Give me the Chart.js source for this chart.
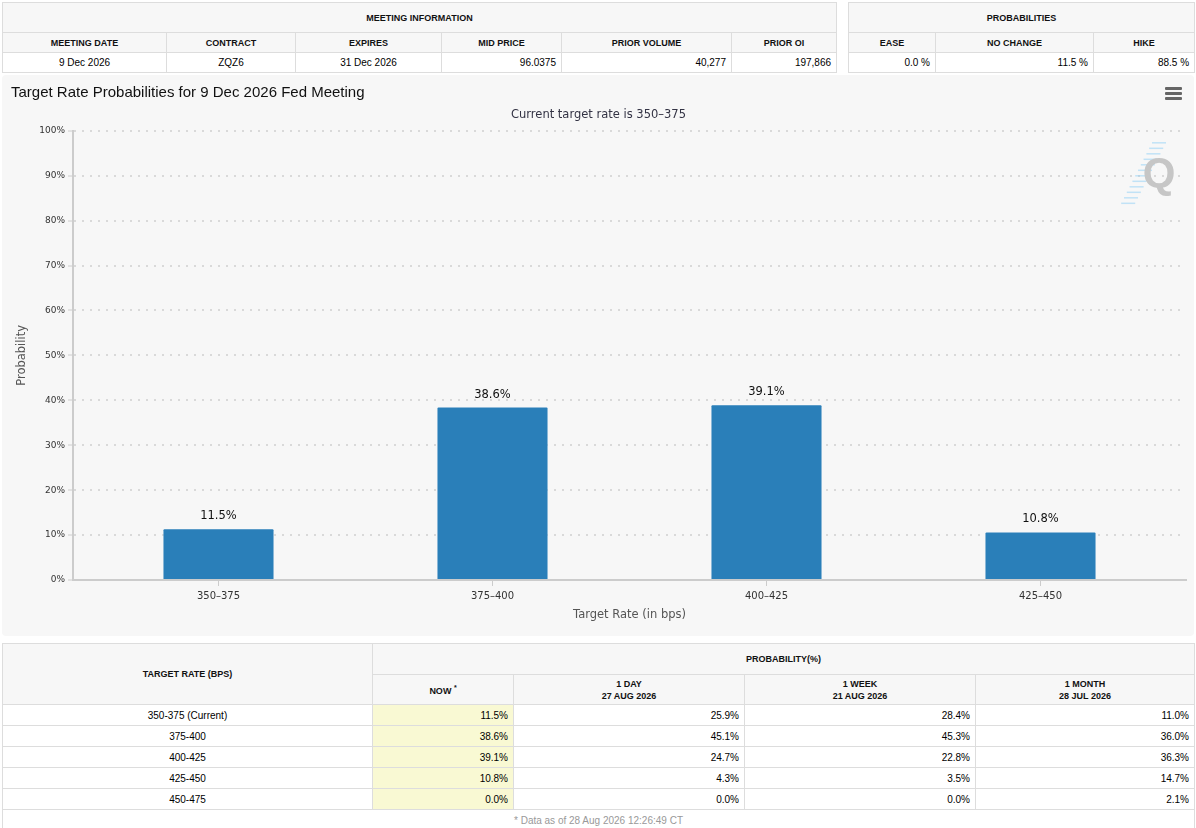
<!DOCTYPE html>
<html>
<head>
<meta charset="utf-8">
<title>Target Rate Probabilities</title>
<script src="https://cdn.jsdelivr.net/npm/chart.js@4/dist/chart.umd.min.js"></script>
<style>
	body { margin: 0; background: #fff; font-family: "Liberation Sans", Arial, sans-serif; width: 1196px; height: 828px; overflow: hidden; position: relative; }
	table { border-collapse: collapse; table-layout: fixed; position: absolute; }
	td, th { border: 1px solid #ddd; font-size: 10px; padding: 0 5px; color: #000; white-space: nowrap; overflow: hidden; }
	th { background: #f7f7f7; font-size: 9px; font-weight: bold; text-align: center; line-height: 12px; color: #111; }
	td { text-align: right; }
	td.c { text-align: center; }
	td.now { background: #f9f9d3; }
	td.note { text-align: center; color: #999; border-bottom: none; }
	#panel { position: absolute; left: 2px; top: 75px; width: 1192px; height: 561px; background: #f7f7f7; border-radius: 4px; }
	#menu { position: absolute; left: 1165px; top: 87px; width: 17px; }
	#menu span { display: block; height: 3px; background: #666; border-radius: 1px; margin-bottom: 2px; }
</style>
</head>
<body>

<table id="meeting" style="left:2px; top:2px; width:834px;">
	<colgroup><col style="width:164px"><col style="width:129px"><col style="width:146px"><col style="width:120px"><col style="width:170px"><col style="width:105px"></colgroup>
	<tr style="height:30px"><th colspan="6">MEETING INFORMATION</th></tr>
	<tr style="height:20px" id="meetingHead"></tr>
	<tr style="height:20px" id="meetingRow"></tr>
</table>

<table id="probs" style="left:848px; top:2px; width:346px;">
	<colgroup><col style="width:87px"><col style="width:158px"><col style="width:101px"></colgroup>
	<tr style="height:30px"><th colspan="3">PROBABILITIES</th></tr>
	<tr style="height:20px" id="probHead"></tr>
	<tr style="height:20px" id="probRow"></tr>
</table>

<div id="panel"><canvas id="chart"></canvas></div>
<div id="menu"><span></span><span></span><span></span></div>

<table id="history" style="left:2px; top:643px; width:1192px;">
	<colgroup><col style="width:370px"><col style="width:141px"><col style="width:231px"><col style="width:231px"><col style="width:219px"></colgroup>
	<tr style="height:31px"><th rowspan="2">TARGET RATE (BPS)</th><th colspan="4">PROBABILITY(%)</th></tr>
	<tr style="height:30px"><th>NOW <sup style="font-size:7px">*</sup></th><th>1 DAY<br>27 AUG 2026</th><th>1 WEEK<br>21 AUG 2026</th><th>1 MONTH<br>28 JUL 2026</th></tr>
	<tbody id="historyBody"></tbody>
	<tr style="height:22px"><td class="note" colspan="5">* Data as of 28 Aug 2026 12:26:49 CT</td></tr>
</table>

<script>
const meetingHeaders = ["MEETING DATE", "CONTRACT", "EXPIRES", "MID PRICE", "PRIOR VOLUME", "PRIOR OI"];
const meetingValues = ["9 Dec 2026", "ZQZ6", "31 Dec 2026", "96.0375", "40,277", "197,866"];
const probHeaders = ["EASE", "NO CHANGE", "HIKE"];
const probValues = ["0.0 %", "11.5 %", "88.5 %"];

// chart
const chartRates = ["350–375", "375–400", "400–425", "425–450"];
const probNow = [11.5, 38.6, 39.1, 10.8];
const yTicks = [0, 10, 20, 30, 40, 50, 60, 70, 80, 90, 100];

// history table
const tableRates = ["350-375 (Current)", "375-400", "400-425", "425-450", "450-475"];
const tableNow = [11.5, 38.6, 39.1, 10.8, 0.0];
const table1Day = [25.9, 45.1, 24.7, 4.3, 0.0];
const table1Week = [28.4, 45.3, 22.8, 3.5, 0.0];
const table1Month = [11.0, 36.0, 36.3, 14.7, 2.1];

document.getElementById("meetingHead").innerHTML = meetingHeaders.map((h) => `<th>${h}</th>`).join("");
document.getElementById("meetingRow").innerHTML = meetingValues
	.map((v, i) => `<td class="${i < 3 ? "c" : ""}">${v}</td>`)
	.join("");
document.getElementById("probHead").innerHTML = probHeaders.map((h) => `<th>${h}</th>`).join("");
document.getElementById("probRow").innerHTML = probValues.map((v) => `<td>${v}</td>`).join("");

document.getElementById("historyBody").innerHTML = tableRates
	.map(
		(r, i) =>
			`<tr style="height:21px"><td class="c">${r}</td><td class="now">${tableNow[i].toFixed(1)}%</td>` +
			`<td>${table1Day[i].toFixed(1)}%</td><td>${table1Week[i].toFixed(1)}%</td><td>${table1Month[i].toFixed(1)}%</td></tr>`
	)
	.join("");

const barLabels = {
	id: "barLabels",
	afterDatasetsDraw(chart) {
		const ctx = chart.ctx;
		const meta = chart.getDatasetMeta(0);
		ctx.save();
		ctx.font = '11.5px "DejaVu Sans"';
		ctx.fillStyle = "#111";
		ctx.textAlign = "center";
		ctx.textBaseline = "middle";
		meta.data.forEach((bar, i) => {
			ctx.fillText(probNow[i].toFixed(1) + "%", bar.x, bar.y - 12);
		});
		ctx.restore();
	},
};

// faint "Q" watermark in the top right corner
const watermark = {
	id: "watermark",
	beforeDatasetsDraw(chart) {
		const ctx = chart.ctx;
		const area = chart.chartArea;
		const cx = area.right - 29;
		const cy = area.top + 42;
		ctx.save();
		ctx.strokeStyle = "rgba(150, 210, 245, 0.55)";
		ctx.lineWidth = 1.5;
		for (let k = 0; k < 12; k++) {
			const y = cy - 30 + k * 5.5;
			const x = cx + 4 - k * 2.8;
			ctx.beginPath();
			ctx.moveTo(x - 9, y);
			ctx.lineTo(x + 5, y);
			ctx.stroke();
		}
		ctx.font = 'bold 42px "Liberation Sans"';
		ctx.fillStyle = "#c6c6c6";
		ctx.textAlign = "center";
		ctx.textBaseline = "alphabetic";
		ctx.fillText("Q", cx + 2, cy + 14);
		ctx.restore();
	},
};

new Chart(document.getElementById("chart"), {
	type: "bar",
	data: {
		datasets: [
			{
				data: probNow.map((v, i) => ({ x: i, y: v })),
				backgroundColor: "#2a7fb9",
				borderColor: "rgba(255, 255, 255, 0.35)",
				borderWidth: 1,
				borderRadius: 2,
				categoryPercentage: 1,
				barPercentage: 0.409,
			},
		],
	},
	options: {
		responsive: true,
		maintainAspectRatio: false,
		animation: false,
		layout: { padding: { left: 9, right: 8, top: 0, bottom: 0 } },
		plugins: {
			legend: { display: false },
			tooltip: { enabled: false },
			title: {
				display: true,
				text: "Target Rate Probabilities for 9 Dec 2026 Fed Meeting",
				align: "start",
				color: "#111",
				font: { family: '"Liberation Sans", Arial', size: 15, weight: "normal" },
				padding: { top: 9, bottom: 0 },
			},
			subtitle: {
				display: true,
				text: "Current target rate is 350–375",
				color: "#334",
				font: { family: '"DejaVu Sans"', size: 11.5 },
				padding: { top: 6, bottom: 9 },
			},
		},
		scales: {
			x: {
				type: "linear",
				min: -0.531,
				max: 3.531,
				offset: false,
				afterBuildTicks: (scale) => {
					scale.ticks = chartRates.map((_, i) => ({ value: i }));
				},
				afterFit: (scale) => {
					scale.height = 56;
				},
				grid: { offset: false, drawOnChartArea: false, drawTicks: true, tickLength: 6, tickColor: "#ccc", tickWidth: 1 },
				border: { display: true, color: "#ccc", width: 2 },
				ticks: {
					callback: (v) => chartRates[v] ?? "",
					color: "#333",
					padding: 4,
					maxRotation: 0,
					autoSkip: false,
					font: { family: '"DejaVu Sans"', size: 10 },
				},
				title: {
					display: true,
					text: "Target Rate (in bps)",
					color: "#555",
					font: { family: '"DejaVu Sans"', size: 11.5 },
					padding: { top: 0, bottom: 14 },
				},
			},
			y: {
				min: 0,
				max: 100,
				afterBuildTicks: (scale) => {
					scale.ticks = yTicks.map((v) => ({ value: v }));
				},
				afterFit: (scale) => {
					scale.width = 62;
				},
				grid: { color: "#d9d9d9", lineWidth: 2, drawTicks: true, tickLength: 5, tickColor: "#ccc", tickWidth: 1 },
				border: { display: true, color: "#ccc", width: 2, dash: [2, 6] },
				ticks: {
					callback: (v) => v + "%",
					color: "#333",
					padding: 3,
					font: { family: '"DejaVu Sans"', size: 9 },
				},
				title: {
					display: true,
					text: "Probability",
					color: "#555",
					font: { family: '"DejaVu Sans"', size: 11.5 },
					padding: { top: 4, bottom: 0 },
				},
			},
		},
	},
	plugins: [watermark, barLabels],
});
</script>
</body>
</html>
